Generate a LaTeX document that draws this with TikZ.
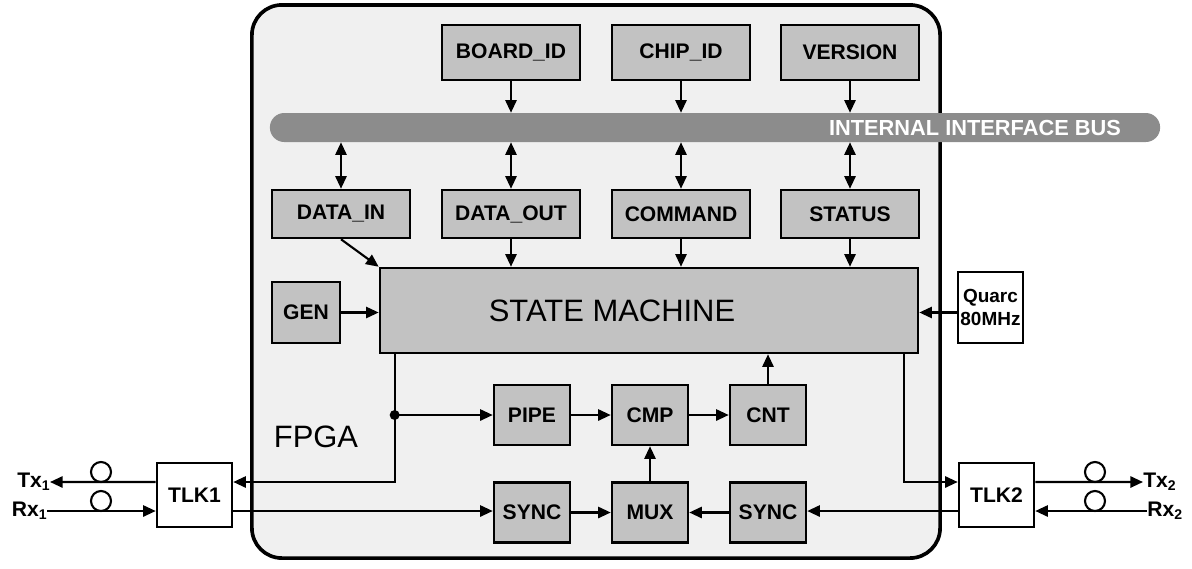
\documentclass[tikz,border=0pt]{standalone}
\usepackage{fontspec}
\setmainfont{Liberation Sans}
\usepackage{tikz}
\usetikzlibrary{arrows.meta,positioning}
\usepackage{xcolor}
\definecolor{fpgagray}{HTML}{F0F0F0}
\definecolor{blockgray}{HTML}{C2C2C2}
\definecolor{busgray}{HTML}{8C8C8C}

\begin{document}
\begin{tikzpicture}[x=0.025cm,y=-0.025cm,
	blk/.style={draw,line width=1.8pt,fill=blockgray,inner sep=0pt,font=\bfseries\fontsize{15}{17}\selectfont},
	reg/.style={blk,minimum width=3.45cm},
	small/.style={blk,minimum width=1.9cm,minimum height=1.5cm},
	tlk/.style={blk,fill=white,minimum width=1.875cm,minimum height=1.6cm},
	conn/.style={line width=1.5pt,-{Triangle[length=9pt,width=8pt]}},
	both/.style={line width=1.5pt,{Triangle[length=9pt,width=8pt]}-{Triangle[length=9pt,width=8pt]}},
	fiber/.style={draw,circle,line width=1.5pt,minimum size=0.5cm,inner sep=0pt},
	port/.style={inner sep=0pt,font=\bfseries\fontsize{15}{17}\selectfont}]
	\useasboundingbox (0,0) rectangle (1192,568);
	\node[draw,line width=2.6pt,fill=fpgagray,rounded corners=0.75cm,minimum width=17.2cm,minimum height=13.825cm] (fpga) at (596,281.5) {};
	\node[fill=busgray,rounded corners=0.36cm,minimum width=22.25cm,minimum height=0.725cm] (bus) at (715,127.5) {};
	\node[text=white,font=\bfseries\fontsize{15.5}{17}\selectfont] (buslabel) at (975,128) {INTERNAL INTERFACE BUS};
	\begin{scope}[every node/.style={reg,minimum height=1.375cm}]
		\node (boardid) at (511,52.5) {BOARD\_ID};
		\node (chipid) at (681,52.5) {CHIP\_ID};
		\node (version) at (850,52.5) {VERSION};
	\end{scope}
	\begin{scope}[every node/.style={reg,minimum height=1.2cm}]
		\node (datain) at (341,214) {DATA\_IN};
		\node (dataout) at (511,214) {DATA\_OUT};
		\node (command) at (681,214) {COMMAND};
		\node (status) at (850,214) {STATUS};
	\end{scope}
	\node[blk,minimum width=13.45cm,minimum height=2.125cm] (sm) at (649,310.5) {};
	\node[font=\fontsize{22}{26}\selectfont] (smlabel) at (612,311) {STATE MACHINE};
	\node[blk,minimum width=1.7cm,minimum height=1.525cm] (gen) at (306,312.5) {GEN};
	\node[blk,fill=white,minimum width=1.625cm,minimum height=1.775cm,align=center,font=\bfseries\fontsize{13.5}{16}\selectfont] (quarc) at (990.5,307.5) {Quarc\\80MHz};
	\node[font=\fontsize{22}{26}\selectfont] (fpgalabel) at (316,437) {FPGA};
	\begin{scope}[every node/.style={small}]
		\node (pipe) at (532,415) {PIPE};
		\node (cmp) at (650,415) {CMP};
		\node (cnt) at (768,415) {CNT};
		\node (sync1) at (532,512.5) {SYNC};
		\node (mux) at (650,512.5) {MUX};
		\node (sync2) at (768,512.5) {SYNC};
	\end{scope}
	\node[tlk] (tlk1) at (194.5,495) {TLK1};
	\node[tlk] (tlk2) at (996.5,495) {TLK2};
	\node[port,anchor=east] (tx1) at (50,482) {Tx{\fontsize{10}{10}\selectfont\raisebox{-0.35ex}{1}}};
	\node[port,anchor=east] (rx1) at (47,511) {Rx{\fontsize{10}{10}\selectfont\raisebox{-0.35ex}{1}}};
	\node[port,anchor=west] (tx2) at (1143,482) {Tx{\fontsize{10}{10}\selectfont\raisebox{-0.35ex}{2}}};
	\node[port,anchor=west] (rx2) at (1147,511) {Rx{\fontsize{10}{10}\selectfont\raisebox{-0.35ex}{2}}};
	\node[fiber] (f1) at (101,472) {};
	\node[fiber] (f2) at (101,501) {};
	\node[fiber] (f3) at (1095,472) {};
	\node[fiber] (f4) at (1095,501) {};
	% registers and bus
	\foreach \n in {boardid,chipid,version}
		\draw[conn] (\n.south) -- (\n.south |- bus.north);
	\foreach \n in {datain,dataout,command,status}
		\draw[both] (\n.north |- bus.south) -- (\n.north);
	\draw[conn] (datain.south) -- (sm.north west);
	\foreach \n in {dataout,command,status}
		\draw[conn] (\n.south) -- (\n.south |- sm.north);
	\draw[conn] (gen.east) -- (gen.east -| sm.west);
	\draw[conn] (quarc.west |- gen.east) -- (sm.east |- gen.east);
	% datapath
	\draw[conn] (pipe) -- (cmp);
	\draw[conn] (cmp) -- (cnt);
	\draw[conn] (cnt.north) -- (cnt.north |- sm.south);
	\draw[conn] (mux.north) -- (cmp.south);
	\draw[conn] (sync1) -- (mux);
	\draw[conn] (sync2) -- (mux);
	\coordinate (smleft) at ([xshift=0.4cm]sm.south west);
	\coordinate (smright) at ([xshift=-0.375cm]sm.south east);
	\draw[conn] (smleft) |- ([yshift=0.325cm]tlk1.east);
	\fill (smleft |- pipe) circle (5);
	\draw[conn] (smleft |- pipe) -- (pipe.west);
	\draw[conn] ([yshift=-0.4cm]tlk1.east) -- ([yshift=-0.4cm]tlk1.east -| sync1.west);
	\draw[conn] (smright) |- ([yshift=0.325cm]tlk2.west);
	\draw[conn] ([yshift=-0.4cm]tlk2.west) -- ([yshift=-0.4cm]tlk2.west -| sync2.east);
	% links
	\draw[conn] ([yshift=0.325cm]tlk1.west) -- (tx1.east);
	\draw[conn] (rx1.east) -- (rx1.east -| tlk1.west);
	\draw[conn] ([yshift=0.325cm]tlk2.east) -- (tx2.west);
	\draw[conn] (rx2.west) -- (rx2.west -| tlk2.east);
\end{tikzpicture}
\end{document}
